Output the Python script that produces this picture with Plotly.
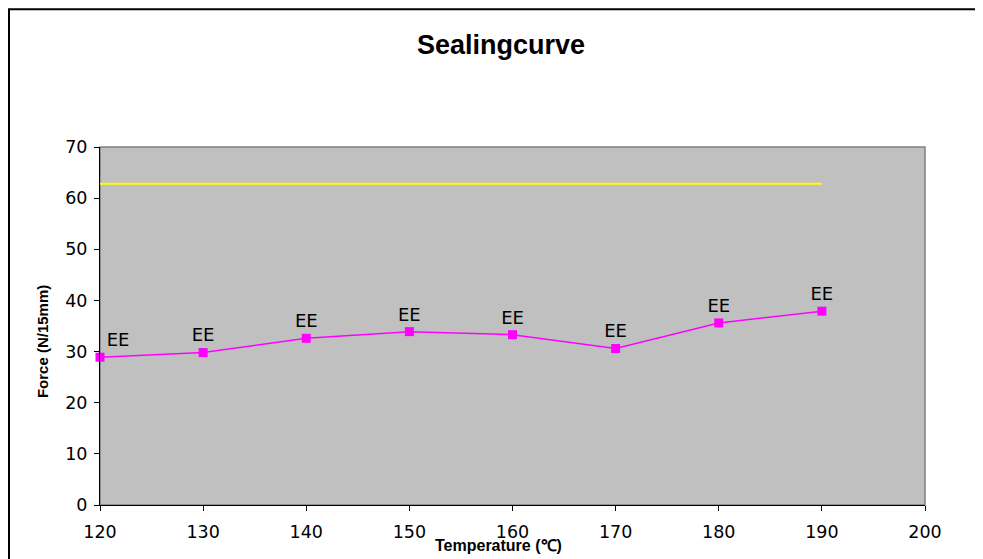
import plotly.graph_objects as go

temperature = [120, 130, 140, 150, 160, 170, 180, 190]
force = [28.9, 29.8, 32.6, 33.9, 33.3, 30.6, 35.6, 37.9]
point_labels = ["EE"] * 8
limit_value = [62.8] * 8
x_ticks = [120, 130, 140, 150, 160, 170, 180, 190, 200]
y_ticks = [0, 10, 20, 30, 40, 50, 60, 70]

fig = go.Figure()
fig.add_trace(go.Scatter(
    x=temperature, y=limit_value, mode="lines",
    line=dict(color="#FFFF00", width=2), hoverinfo="skip", showlegend=False))
fig.add_trace(go.Scatter(
    x=temperature, y=force, mode="lines+markers+text",
    line=dict(color="#FF00FF", width=1.5),
    marker=dict(symbol="square", size=9, color="#FF00FF"),
    text=point_labels,
    textposition=["top right"] + ["top center"] * 7,
    textfont=dict(family="DejaVu Sans", size=18, color="#000000"),
    cliponaxis=False, showlegend=False))

fig.update_layout(
    width=983, height=559,
    margin=dict(l=92, r=66, t=139, b=62),
    paper_bgcolor="white", plot_bgcolor="#C0C0C0",
    font=dict(family="DejaVu Sans", size=17.5, color="#000000"),
    showlegend=False,
    xaxis=dict(range=[120, 200], tickvals=x_ticks, showgrid=False, zeroline=False,
               showline=True, linecolor="#000000", linewidth=1,
               ticks="outside", ticklen=5, tickcolor="#000000",
               ticklabelstandoff=6),
    yaxis=dict(range=[0, 70], tickvals=y_ticks, showgrid=False, zeroline=False,
               showline=True, linecolor="#000000", linewidth=1,
               ticks="outside", ticklen=5, tickcolor="#000000",
               ticklabelstandoff=3),
    shapes=[
        dict(type="rect", xref="paper", yref="paper", x0=0, x1=1, y0=0, y1=1,
             line=dict(color="#808080", width=1.5), layer="below"),
        dict(type="rect", xref="paper", yref="paper", x0=-0.1103, x1=1.2, y0=-0.3, y1=1.385,
             line=dict(color="#000000", width=2)),
    ],
    annotations=[
        dict(text="<b>Sealingcurve</b>", xref="paper", yref="paper", x=0.486, y=1.285,
             xanchor="center", yanchor="middle", showarrow=False,
             font=dict(family="Liberation Sans", size=27)),
        dict(text="<b>Force (N/15mm)</b>", xref="paper", yref="paper", x=-0.0703, y=0.455,
             xanchor="center", yanchor="middle", textangle=-90, showarrow=False,
             font=dict(family="Liberation Sans", size=15)),
        dict(text="<b>Temperature (℃)</b>", xref="paper", yref="paper", x=0.4836, y=-0.084,
             xanchor="center", yanchor="top", showarrow=False,
             font=dict(family="Liberation Sans", size=16)),
    ],
)

fig.write_html("out.html")
